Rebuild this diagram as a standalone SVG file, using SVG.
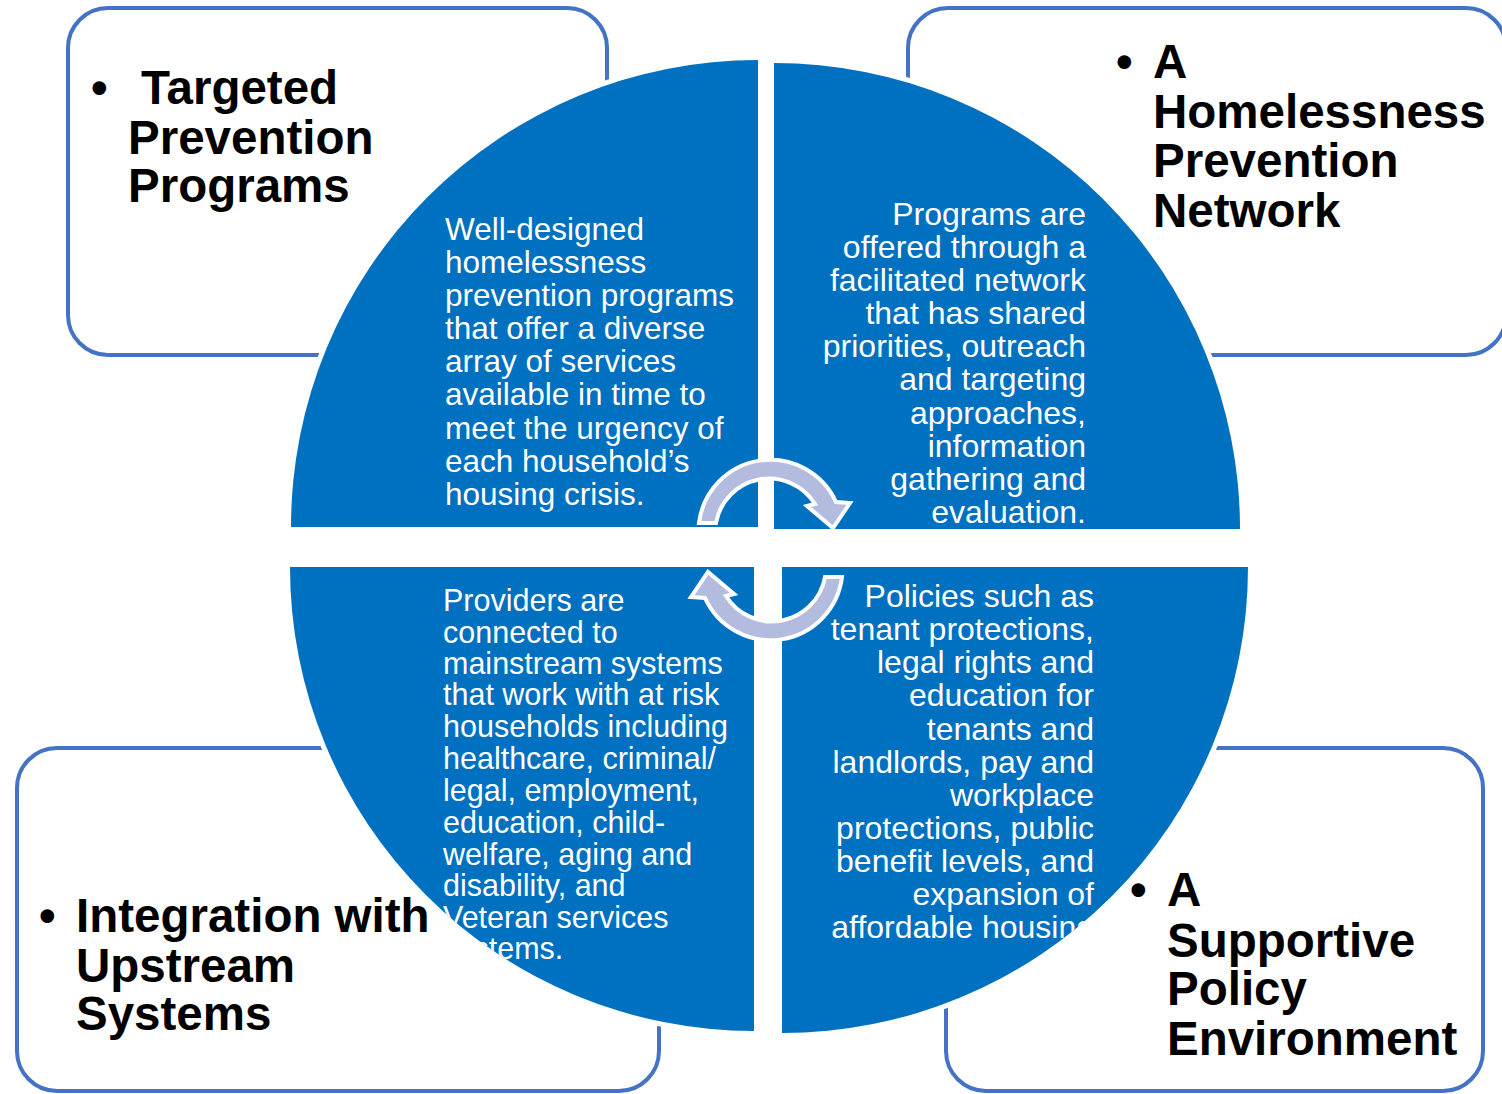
<svg xmlns="http://www.w3.org/2000/svg" width="1502" height="1094" viewBox="0 0 1502 1094">
<style>
.box{fill:#fff;stroke:#4472C4;stroke-width:4}
.quad{fill:#0070C0;stroke:#fff;stroke-width:10;paint-order:stroke fill}
.head{font-family:"Liberation Sans",Arial,sans-serif;font-weight:bold;font-size:47.5px;fill:#000}
.body{font-family:"Liberation Sans",Arial,sans-serif;font-size:31.5px;fill:#fff}
.arr{fill:#B3BCDF;stroke:#fff;stroke-width:4;stroke-linejoin:miter}
</style>
<defs>
<clipPath id="cTL"><path d="M758 527 L291 527 A467 467 0 0 1 758 60 Z"/></clipPath>
<clipPath id="cTR"><path d="M774 529 L774 63 A466 466 0 0 1 1240 529 Z"/></clipPath>
<clipPath id="cBL"><path d="M754 567 L754 1031 A464 464 0 0 1 290 567 Z"/></clipPath>
<clipPath id="cBR"><path d="M782 567 L1248 567 A466 466 0 0 1 782 1033 Z"/></clipPath>
</defs>

<g id="box-targeted">
<rect class="box" x="68" y="8" width="539" height="347" rx="40"/>
<text class="head"><tspan x="91" y="104">•</tspan><tspan x="141" y="104">Targeted</tspan><tspan x="128" y="154">Prevention</tspan><tspan x="128" y="202">Programs</tspan></text>
</g>
<g id="box-network">
<rect class="box" x="908" y="8" width="598" height="347" rx="40"/>
<text class="head"><tspan x="1116" y="78">•</tspan><tspan x="1153" y="78">A</tspan><tspan x="1153" y="128">Homelessness</tspan><tspan x="1153" y="177">Prevention</tspan><tspan x="1153" y="227">Network</tspan></text>
</g>
<g id="box-upstream">
<rect class="box" x="17" y="748" width="642" height="343" rx="40"/>
<text class="head"><tspan x="39" y="932">•</tspan><tspan x="76" y="932">Integration with</tspan><tspan x="76" y="982">Upstream</tspan><tspan x="76" y="1030">Systems</tspan></text>
</g>
<g id="box-policy">
<rect class="box" x="946" y="748" width="537" height="343" rx="40"/>
<text class="head"><tspan x="1130" y="906">•</tspan><tspan x="1167" y="906">A</tspan><tspan x="1167" y="957">Supportive</tspan><tspan x="1167" y="1005">Policy</tspan><tspan x="1167" y="1055">Environment</tspan></text>
</g>

<g id="quad-tl">
<path class="quad" d="M758 527 L291 527 A467 467 0 0 1 758 60 Z"/>
<text class="body" clip-path="url(#cTL)"><tspan x="445" y="240">Well-designed</tspan><tspan x="445" y="273">homelessness</tspan><tspan x="445" y="306">prevention programs</tspan><tspan x="445" y="339">that offer a diverse</tspan><tspan x="445" y="372">array of services</tspan><tspan x="445" y="405">available in time to</tspan><tspan x="445" y="439">meet the urgency of</tspan><tspan x="445" y="472">each household’s</tspan><tspan x="445" y="505">housing crisis.</tspan></text>
</g>
<g id="quad-tr">
<path class="quad" d="M774 529 L774 63 A466 466 0 0 1 1240 529 Z"/>
<text class="body" style="font-size:32px" text-anchor="end" clip-path="url(#cTR)"><tspan x="1086" y="225">Programs are</tspan><tspan x="1086" y="258">offered through a</tspan><tspan x="1086" y="291">facilitated network</tspan><tspan x="1086" y="324">that has shared</tspan><tspan x="1086" y="357">priorities, outreach</tspan><tspan x="1086" y="390">and targeting</tspan><tspan x="1086" y="424">approaches,</tspan><tspan x="1086" y="457">information</tspan><tspan x="1086" y="490">gathering and</tspan><tspan x="1086" y="523">evaluation.</tspan></text>
</g>
<g id="quad-bl">
<path class="quad" d="M754 567 L754 1031 A464 464 0 0 1 290 567 Z"/>
<text class="body" style="font-size:30.5px" clip-path="url(#cBL)"><tspan x="443" y="611">Providers are</tspan><tspan x="443" y="643">connected to</tspan><tspan x="443" y="674">mainstream systems</tspan><tspan x="443" y="705">that work with at risk</tspan><tspan x="443" y="737">households including</tspan><tspan x="443" y="769">healthcare, criminal/</tspan><tspan x="443" y="801">legal, employment,</tspan><tspan x="443" y="833">education, child-</tspan><tspan x="443" y="865">welfare, aging and</tspan><tspan x="443" y="896">disability, and</tspan><tspan x="443" y="928">Veteran services</tspan><tspan x="443" y="959">systems.</tspan></text>
</g>
<g id="quad-br">
<path class="quad" d="M782 567 L1248 567 A466 466 0 0 1 782 1033 Z"/>
<text class="body" style="font-size:32px" text-anchor="end" clip-path="url(#cBR)"><tspan x="1094" y="607">Policies such as</tspan><tspan x="1094" y="640">tenant protections,</tspan><tspan x="1094" y="673">legal rights and</tspan><tspan x="1094" y="706">education for</tspan><tspan x="1094" y="740">tenants and</tspan><tspan x="1094" y="773">landlords, pay and</tspan><tspan x="1094" y="806">workplace</tspan><tspan x="1094" y="839">protections, public</tspan><tspan x="1094" y="872">benefit levels, and</tspan><tspan x="1094" y="905">expansion of</tspan><tspan x="1094" y="938">affordable housing</tspan></text>
</g>

<g id="connectors">
<path id="arrow-top" class="arr" d="M716 523 L699 523 A72 72 0 0 1 836 502 L850 503 L833 528 L807 506 L815 504 A54 54 0 0 0 716 523 Z"/>
<path id="arrow-bottom" class="arr" transform="rotate(180 770.5 550)" d="M716 523 L699 523 A72 72 0 0 1 836 502 L850 503 L833 528 L807 506 L815 504 A54 54 0 0 0 716 523 Z"/>
</g>
</svg>
